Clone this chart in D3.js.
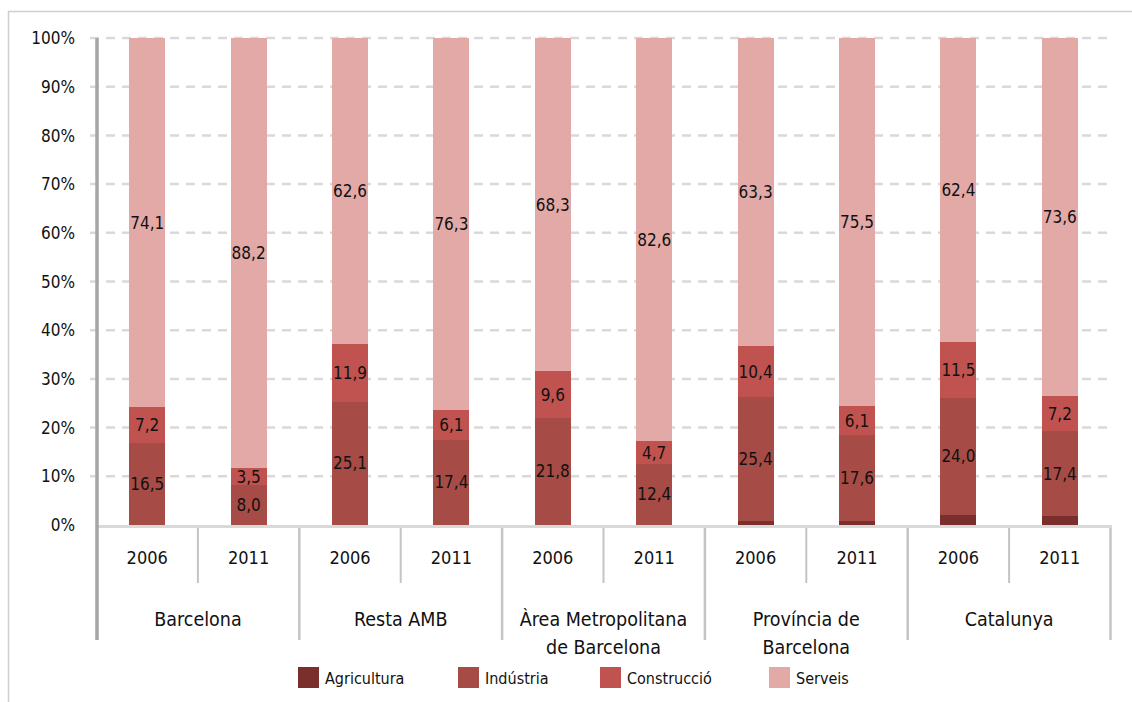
<!DOCTYPE html>
<html>
<head>
<meta charset="utf-8">
<script src="https://cdn.jsdelivr.net/npm/d3@7"></script>
<style>
  html, body { margin: 0; padding: 0; background: #fff; }
  svg { display: block; }
  text { font-family: "Liberation Sans Narrow", "Arial Narrow", "DejaVu Sans Condensed", sans-serif; fill: #111; }
</style>
</head>
<body>
<svg id="chart" width="1132" height="702"></svg>
<script>
// ---- Data ----
const groups = ["Barcelona", "Resta AMB", "Àrea Metropolitana\nde Barcelona", "Província de\nBarcelona", "Catalunya"];
const years = ["2006", "2011"];
const sectors = ["Agricultura", "Indústria", "Construcció", "Serveis"];
// one value per bar: group order x year order
const agricultura = [0.0, 0.1, 0.1, 0.1, 0.1, 0.1, 0.9, 0.8, 2.1, 1.8];
const industria   = [16.5, 8.0, 25.1, 17.4, 21.8, 12.4, 25.4, 17.6, 24.0, 17.4];
const construccio = [7.2, 3.5, 11.9, 6.1, 9.6, 4.7, 10.4, 6.1, 11.5, 7.2];
const serveis     = [74.1, 88.2, 62.6, 76.3, 68.3, 82.6, 63.3, 75.5, 62.4, 73.6];
const yTicks = [0, 0.1, 0.2, 0.3, 0.4, 0.5, 0.6, 0.7, 0.8, 0.9, 1.0];

// ---- Styles ----
const colors = ["#7b2f2d", "#a64b45", "#c0534f", "#e2a9a7"];
const svg = d3.select("#chart");

const bars = [];
groups.forEach((g, gi) => years.forEach((yr, yi) => {
  const i = gi * years.length + yi;
  bars.push({ id: i, group: gi, year: yr,
    "Agricultura": agricultura[i], "Indústria": industria[i],
    "Construcció": construccio[i], "Serveis": serveis[i] });
}));

const x = d3.scaleBand().domain(bars.map(d => d.id)).range([96.5, 1110.5])
  .paddingInner(0.645).paddingOuter(0.3225);
const cell = d3.scaleBand().domain(bars.map(d => d.id)).range([96.5, 1110.5]).padding(0);
const y = d3.scaleLinear().domain([0, 1]).range([525, 38]);

const stack = d3.stack().keys(sectors).offset(d3.stackOffsetExpand);
const series = stack(bars);

// frame
svg.append("rect").attr("x", 8.5).attr("y", 11.5).attr("width", 1140).attr("height", 720)
  .attr("fill", "none").attr("stroke", "#cfcfcf").attr("stroke-width", 1.5);

// gridlines
svg.append("g").selectAll("line").data(yTicks.filter(t => t > 0)).join("line")
  .attr("x1", 90).attr("x2", 1112)
  .attr("y1", d => y(d)).attr("y2", d => y(d))
  .attr("stroke", "#d9d9d9").attr("stroke-width", 2.5).attr("stroke-dasharray", "9,7");

// y tick labels
svg.append("g").selectAll("text").data(yTicks).join("text")
  .attr("x", 75).attr("y", d => y(d)).attr("dy", "0.36em")
  .attr("text-anchor", "end").style("font-size", "17px")
  .text(d => d3.format(".0%")(d));

// bars
const layer = svg.append("g").attr("shape-rendering", "crispEdges")
  .selectAll("g").data(series).join("g")
  .attr("fill", (d, i) => colors[i]);
layer.selectAll("rect").data(d => d).join("rect")
  .attr("x", d => x(d.data.id))
  .attr("width", x.bandwidth())
  .attr("y", d => y(d[1]))
  .attr("height", d => y(d[0]) - y(d[1]));

// value labels (all sectors except agriculture)
const fmt = v => d3.format(".1f")(v).replace(".", ",");
series.forEach((s, si) => {
  if (si === 0) return;
  svg.append("g").selectAll("text").data(s).join("text")
    .attr("x", d => x(d.data.id) + x.bandwidth() / 2)
    .attr("y", d => (y(d[0]) + y(d[1])) / 2)
    .attr("dy", "0.36em").attr("text-anchor", "middle")
    .style("font-size", "17px")
    .text(d => fmt(d.data[s.key]));
});

// x axis base line
svg.append("line").attr("x1", 97).attr("x2", 1112).attr("y1", 526.5).attr("y2", 526.5)
  .attr("stroke", "#d9d9d9").attr("stroke-width", 3);

// year separators (inside groups)
const yearSeps = bars.filter(d => d.id % years.length !== 0).map(d => cell(d.id));
svg.append("g").selectAll("line").data(yearSeps).join("line")
  .attr("x1", d => d).attr("x2", d => d).attr("y1", 528).attr("y2", 583)
  .attr("stroke", "#c4c4c4").attr("stroke-width", 2);

// group separators
const groupSeps = groups.map((g, gi) => cell((gi + 1) * years.length - 1) + cell.bandwidth());
svg.append("g").selectAll("line").data(groupSeps).join("line")
  .attr("x1", d => d).attr("x2", d => d).attr("y1", 528).attr("y2", 640)
  .attr("stroke", "#c4c4c4").attr("stroke-width", 2.5);

// y axis line
svg.append("line").attr("x1", 97).attr("x2", 97).attr("y1", 38).attr("y2", 640)
  .attr("stroke", "#a6a6a6").attr("stroke-width", 3.5);

// year labels
svg.append("g").selectAll("text").data(bars).join("text")
  .attr("x", d => cell(d.id) + cell.bandwidth() / 2).attr("y", 558)
  .attr("dy", "0.36em").attr("text-anchor", "middle").style("font-size", "18px")
  .text(d => d.year);

// group labels
const gl = svg.append("g").selectAll("text").data(groups).join("text")
  .attr("text-anchor", "middle").style("font-size", "19.5px")
  .attr("transform", (d, gi) => {
    const cx = (cell(gi * years.length) + cell((gi + 1) * years.length - 1) + cell.bandwidth()) / 2;
    return `translate(${cx},619)`;
  });
gl.selectAll("tspan").data(d => d.split("\n")).join("tspan")
  .attr("x", 0).attr("y", (d, i) => i * 28).attr("dy", "0.36em").text(d => d);

// legend
const legendX = [298, 458, 600, 769];
const lg = svg.append("g").selectAll("g").data(sectors).join("g")
  .attr("transform", (d, i) => `translate(${legendX[i]},667)`);
lg.append("rect").attr("width", 21).attr("height", 21).attr("fill", (d, i) => colors[i]);
lg.append("text").attr("x", 27).attr("y", 11).attr("dy", "0.36em")
  .style("font-size", "16px").text(d => d);
</script>
</body>
</html>
